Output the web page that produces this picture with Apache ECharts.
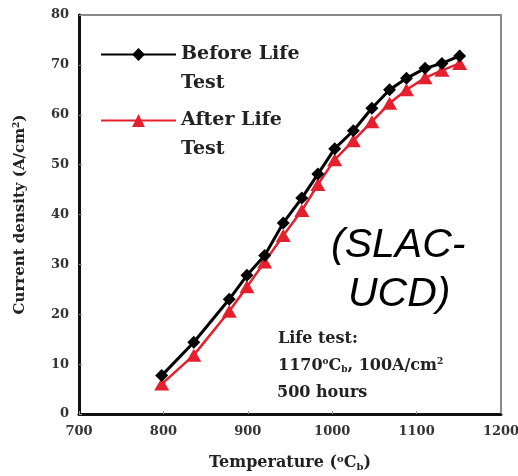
<!DOCTYPE html>
<html>
<head>
<meta charset="utf-8">
<script src="https://cdn.jsdelivr.net/npm/echarts@6/dist/echarts.min.js"></script>
<style>html,body{margin:0;padding:0;background:#fff;}#c{width:518px;height:476px;}</style>
</head>
<body>
<div id="c"></div>
<script>
// Data
var temperature = [798, 836, 878, 899, 920, 942, 964, 983, 1003, 1025, 1047, 1068, 1088, 1110, 1130, 1151];
var beforeLife = [7.7, 14.4, 23.0, 27.8, 31.8, 38.3, 43.3, 48.1, 53.2, 56.8, 61.3, 65.0, 67.3, 69.3, 70.3, 71.8];
var afterLife  = [6.0, 11.8, 20.6, 25.5, 30.5, 35.8, 40.8, 46.0, 51.0, 54.8, 58.6, 62.3, 65.0, 67.4, 68.9, 70.3];
var xTicks = [700, 800, 900, 1000, 1100, 1200];
var yTicks = [0, 10, 20, 30, 40, 50, 60, 70, 80];
var seriesNames = ['Before Life Test', 'After Life Test'];

function pairs(xs, ys) { return xs.map(function (x, i) { return [x, ys[i]]; }); }

var serif = '"DejaVu Serif", serif';
var chart = echarts.init(document.getElementById('c'), null, { renderer: 'canvas' });
chart.setOption({
  backgroundColor: '#fff',
  animation: false,
  grid: { left: 79, right: 17, top: 15, bottom: 62, outerBoundsMode: 'none', containLabel: false,
          show: true, borderColor: '#8a8a8a', borderWidth: 2, backgroundColor: 'transparent' },
  legend: {
    data: [seriesNames[0], seriesNames[1]],
    orient: 'vertical',
    left: 100, top: 11, padding: 0,
    itemWidth: 75, itemHeight: 16, itemGap: -21,
    selectedMode: false,
    formatter: function (n) { return n === seriesNames[0] ? '\nBefore Life\nTest' : '\nAfter Life\nTest'; },
    textStyle: { fontFamily: serif, fontWeight: 'bold', fontSize: 19, color: '#222', lineHeight: 29 }
  },
  xAxis: {
    type: 'value', min: xTicks[0], max: xTicks[xTicks.length - 1], interval: 100,
    axisLine: { show: true, onZero: false, lineStyle: { color: '#111', width: 3 } },
    axisTick: { show: true, inside: true, length: 3, lineStyle: { color: '#999', width: 1 } },
    splitLine: { show: false },
    axisLabel: { margin: 11, fontFamily: serif, fontWeight: 'bold', fontSize: 13, color: '#333',
      formatter: function (v) { return String(v); } },
    name: 'Temperature ({sup|o}C{sub|b})',
    nameLocation: 'middle', nameGap: 40,
    nameTextStyle: {
      fontFamily: serif, fontWeight: 'bold', fontSize: 16, color: '#222',
      rich: {
        sup: { fontFamily: serif, fontWeight: 'bold', fontSize: 10, color: '#222', verticalAlign: 'top', padding: [0, 0, 8, 0] },
        sub: { fontFamily: serif, fontWeight: 'bold', fontSize: 10, color: '#222', padding: [8, 0, 0, 0] }
      }
    }
  },
  yAxis: {
    type: 'value', min: yTicks[0], max: yTicks[yTicks.length - 1], interval: 10,
    axisLine: { show: true, onZero: false, lineStyle: { color: '#111', width: 3 } },
    axisTick: { show: true, inside: true, length: 3, lineStyle: { color: '#999', width: 1 } },
    splitLine: { show: false },
    axisLabel: { margin: 10, fontFamily: serif, fontWeight: 'bold', fontSize: 13, color: '#333',
      formatter: function (v) { return String(v); } },
    name: 'Current density (A/cm{sup|2})',
    nameLocation: 'middle', nameGap: 50,
    nameTextStyle: {
      fontFamily: serif, fontWeight: 'bold', fontSize: 15, color: '#222',
      rich: {
        sup: { fontFamily: serif, fontWeight: 'bold', fontSize: 9, color: '#222', padding: [0, 0, 8, 0] }
      }
    }
  },
  series: [
    {
      name: seriesNames[1], type: 'line', data: pairs(temperature, afterLife),
      symbol: 'triangle', symbolSize: [15, 13],
      lineStyle: { color: '#e5202e', width: 2.5 },
      itemStyle: { color: '#e5202e' }, z: 2
    },
    {
      name: seriesNames[0], type: 'line', data: pairs(temperature, beforeLife),
      symbol: 'diamond', symbolSize: 13,
      lineStyle: { color: '#000', width: 3 },
      itemStyle: { color: '#000' }, z: 3
    }
  ],
  graphic: [
    { type: 'text', left: 331, top: 225, style: { text: '(SLAC-', font: 'italic 41px "Liberation Sans", Arial, sans-serif', fill: '#000' } },
    { type: 'text', left: 348, top: 274, style: { text: 'UCD)', font: 'italic 41px "Liberation Sans", Arial, sans-serif', fill: '#000' } },
    { type: 'text', x: 278, y: 339, style: { text: 'Life test:', font: 'bold 16px "DejaVu Serif", serif', fill: '#222', verticalAlign: 'middle' } },
    { type: 'text', x: 278, y: 366, style: {
        text: '1170{sup|o}C{sub|b}, 100A/cm{sup|2}', font: 'bold 16px "DejaVu Serif", serif', fill: '#222', verticalAlign: 'middle',
        rich: {
          sup: { font: 'bold 9px "DejaVu Serif", serif', fill: '#222', padding: [0, 0, 9, 0] },
          sub: { font: 'bold 9px "DejaVu Serif", serif', fill: '#222', padding: [8, 0, 0, 0] }
        } } },
    { type: 'text', x: 277, y: 393, style: { text: '500 hours', font: 'bold 16px "DejaVu Serif", serif', fill: '#222', verticalAlign: 'middle' } }
  ]
});
</script>
</body>
</html>
